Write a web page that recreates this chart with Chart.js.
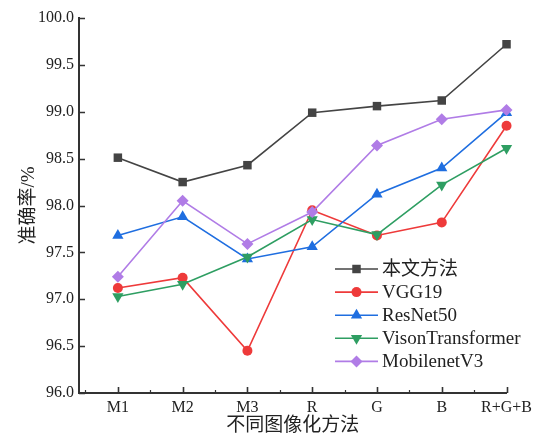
<!DOCTYPE html>
<html>
<head>
<meta charset="utf-8">
<script src="https://cdn.jsdelivr.net/npm/chart.js@4.4.1/dist/chart.umd.min.js"></script>
<style>
  html, body { margin: 0; padding: 0; background: #ffffff; }
  #wrap { width: 537px; height: 441px; position: relative; }
</style>
</head>
<body>
<div id="wrap"><canvas id="c" width="537" height="441"></canvas></div>
<script>
// Image-conversion methods on the x axis
const categories = ['M1', 'M2', 'M3', 'R', 'G', 'B', 'R+G+B'];

// Accuracy (%) for each model
const oursAcc      = [98.51, 98.25, 98.43, 98.99, 99.06, 99.12, 99.72];
const vgg19Acc     = [97.12, 97.23, 96.45, 97.95, 97.68, 97.82, 98.85];
const resnet50Acc  = [97.68, 97.88, 97.43, 97.56, 98.12, 98.40, 98.99];
const vitAcc       = [97.03, 97.16, 97.45, 97.85, 97.69, 98.22, 98.61];
const mobilenetAcc = [97.24, 98.05, 97.59, 97.93, 98.64, 98.92, 99.02];

const seriesNames = ['本文方法', 'VGG19', 'ResNet50', 'VisonTransformer', 'MobilenetV3'];

// Y axis range and step
const yMin = 96.0, yMax = 100.0, yStep = 0.5;

const SERIF = '"Liberation Serif", "Times New Roman", "Noto Sans CJK SC", serif';
const AXIS_COLOR = '#333333';

const styles = [
  { color: '#444444', pointStyle: 'rect',     radius: 6,   rotation: 0 },
  { color: '#ee3a3a', pointStyle: 'circle',   radius: 5,   rotation: 0 },
  { color: '#1f6ee0', pointStyle: 'triangle', radius: 6.5, rotation: 0 },
  { color: '#2e9e62', pointStyle: 'triangle', radius: 6.5, rotation: 180 },
  { color: '#b07ce6', pointStyle: 'rectRot',  radius: 6,   rotation: 0 }
];

const allSeries = [oursAcc, vgg19Acc, resnet50Acc, vitAcc, mobilenetAcc];

const datasets = allSeries.map((vals, k) => ({
  label: seriesNames[k],
  data: vals.map((v, i) => ({ x: i, y: v })),
  borderColor: styles[k].color,
  backgroundColor: styles[k].color,
  pointBackgroundColor: styles[k].color,
  pointBorderColor: styles[k].color,
  pointStyle: styles[k].pointStyle,
  pointRadius: styles[k].radius,
  pointRotation: styles[k].rotation,
  pointBorderWidth: 0,
  borderWidth: 1.6,
  tension: 0,
  fill: false,
  clip: false
})).reverse(); // first series drawn on top

// Inward tick marks for both axes
const tickMarks = {
  id: 'tickMarks',
  afterDraw(chart) {
    const { ctx, chartArea } = chart;
    const xs = chart.scales.x, ys = chart.scales.y;
    ctx.save();
    ctx.strokeStyle = AXIS_COLOR;
    ctx.lineWidth = 1.6;
    ctx.beginPath();
    for (let v = yMin; v <= yMax + 1e-9; v += yStep) {
      const py = Math.round(ys.getPixelForValue(v)) + 0.5;
      ctx.moveTo(chartArea.left, py);
      ctx.lineTo(chartArea.left + 6, py);
    }
    for (let i = 0; i < categories.length; i++) {
      const px = Math.round(xs.getPixelForValue(i)) + 0.5;
      ctx.moveTo(px, chartArea.bottom);
      ctx.lineTo(px, chartArea.bottom - 6);
    }
    ctx.stroke();
    ctx.lineWidth = 1.2;
    ctx.beginPath();
    for (let i = -0.5; i < categories.length - 1; i += 1) {
      const px = Math.round(xs.getPixelForValue(i)) + 0.5;
      ctx.moveTo(px, chartArea.bottom);
      ctx.lineTo(px, chartArea.bottom - 3);
    }
    ctx.stroke();
    ctx.restore();
  }
};

// Legend drawn as line + marker samples inside the plot area
function drawMarker(ctx, style, x, y) {
  const r = style.radius;
  ctx.beginPath();
  if (style.pointStyle === 'rect') {
    const s = r * Math.SQRT1_2;
    ctx.rect(x - s, y - s, 2 * s, 2 * s);
  } else if (style.pointStyle === 'circle') {
    ctx.arc(x, y, r, 0, Math.PI * 2);
  } else if (style.pointStyle === 'triangle') {
    const dir = style.rotation === 180 ? -1 : 1;
    ctx.moveTo(x, y - dir * r);
    ctx.lineTo(x + r * Math.sin(Math.PI / 3), y + dir * r / 2);
    ctx.lineTo(x - r * Math.sin(Math.PI / 3), y + dir * r / 2);
    ctx.closePath();
  } else if (style.pointStyle === 'rectRot') {
    ctx.moveTo(x, y - r);
    ctx.lineTo(x + r, y);
    ctx.lineTo(x, y + r);
    ctx.lineTo(x - r, y);
    ctx.closePath();
  }
  ctx.fill();
}

const lineLegend = {
  id: 'lineLegend',
  afterDraw(chart) {
    const { ctx } = chart;
    const x0 = 335, x1 = 378, tx = 382, y0 = 269, dy = 23.1;
    ctx.save();
    ctx.font = '19px ' + SERIF;
    ctx.textBaseline = 'middle';
    ctx.textAlign = 'left';
    seriesNames.forEach((name, k) => {
      const y = y0 + k * dy;
      const st = styles[k];
      ctx.strokeStyle = st.color;
      ctx.fillStyle = st.color;
      ctx.lineWidth = 1.6;
      ctx.beginPath();
      ctx.moveTo(x0, y);
      ctx.lineTo(x1, y);
      ctx.stroke();
      drawMarker(ctx, st, (x0 + x1) / 2, y);
      ctx.fillStyle = '#222222';
      ctx.fillText(name, tx, y + 1);
    });
    ctx.restore();
  }
};

new Chart(document.getElementById('c'), {
  type: 'line',
  data: { datasets },
  options: {
    responsive: false,
    animation: false,
    devicePixelRatio: 1,
    layout: { padding: { top: 18, right: 28, left: 0, bottom: 0 } },
    plugins: {
      legend: { display: false },
      tooltip: { enabled: false }
    },
    scales: {
      x: {
        type: 'linear',
        min: -0.6,
        max: categories.length - 1,
        afterBuildTicks(scale) {
          scale.ticks = categories.map((_, i) => ({ value: i }));
        },
        afterFit(scale) { scale.height = 48; },
        grid: { display: false, drawTicks: false },
        border: { display: true, color: AXIS_COLOR, width: 2 },
        ticks: {
          padding: 5,
          color: '#222222',
          font: { family: SERIF, size: 16 },
          maxRotation: 0,
          autoSkip: false,
          callback: (v) => categories[v]
        },
        title: {
          display: true,
          text: '不同图像化方法',
          color: '#222222',
          font: { family: SERIF, size: 19 },
          padding: { top: 0, bottom: 4 }
        }
      },
      y: {
        min: yMin,
        max: yMax,
        afterFit(scale) { scale.width = 79; },
        grid: { display: false, drawTicks: false },
        border: { display: true, color: AXIS_COLOR, width: 2 },
        ticks: {
          stepSize: yStep,
          padding: 5,
          color: '#222222',
          font: { family: SERIF, size: 16 },
          callback: (v) => Number(v).toFixed(1)
        },
        title: {
          display: true,
          text: '准确率/%',
          color: '#222222',
          font: { family: SERIF, size: 19 },
          padding: { top: 18, bottom: 0 }
        }
      }
    }
  },
  plugins: [tickMarks, lineLegend]
});
</script>
</body>
</html>
